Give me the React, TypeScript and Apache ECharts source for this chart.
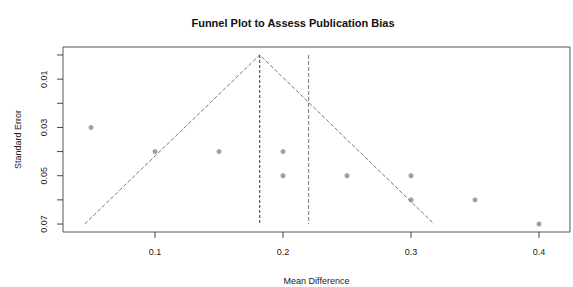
import React, { useEffect, useRef } from "react";
import * as echarts from "echarts";

const meanDifference = [0.05, 0.1, 0.15, 0.2, 0.2, 0.25, 0.3, 0.3, 0.35, 0.4];
const standardError = [0.03, 0.04, 0.04, 0.04, 0.05, 0.05, 0.05, 0.06, 0.06, 0.07];
const funnelX = [0.045, 0.1818, 0.318];
const funnelY = [0.07, 0, 0.07];
const pooledEstimate = 0.1818;
const secondEstimate = 0.22;
const xTicks = [0.1, 0.2, 0.3, 0.4];
const yTicks = [0, 0.01, 0.02, 0.03, 0.04, 0.05, 0.06, 0.07];
const yLabels = [0.01, 0.03, 0.05, 0.07];

const X_MIN = 0.0281;
const X_MAX = 0.4242;
const Y_MIN = -0.0033;
const Y_MAX = 0.0733;

export default function App() {
  const ref = useRef<HTMLDivElement>(null);
  useEffect(() => {
    if (!ref.current) return;
    const chart = echarts.init(ref.current, null, { renderer: "svg" });
    const font = "Liberation Sans, Arial, sans-serif";
    chart.setOption({
      animation: false,
      title: {
        text: "Funnel Plot to Assess Publication Bias",
        left: 288,
        textAlign: "center",
        top: 12,
        textStyle: { fontSize: 11, fontWeight: "bold", color: "#111", fontFamily: font },
      },
      grid: {
        left: 63,
        right: 3,
        top: 47,
        bottom: 55,
        outerBoundsMode: "none",
        containLabel: false,
        show: true,
        borderColor: "#555",
        borderWidth: 1,
        backgroundColor: "#fff",
      },
      xAxis: {
        type: "value",
        position: "bottom",
        min: X_MIN,
        max: X_MAX,
        name: "Mean Difference",
        nameLocation: "middle",
        nameGap: 44,
        nameTextStyle: { fontSize: 9, color: "#222", fontFamily: font, verticalAlign: "top" },
        axisLine: { show: false, onZero: false },
        splitLine: { show: false },
        axisTick: { show: false },
        axisLabel: {
          customValues: xTicks,
          margin: 15,
          fontSize: 9,
          color: "#222",
          fontFamily: font,
          formatter: (v: number) => String(Math.round(v * 10) / 10),
        },
      },
      yAxis: {
        type: "value",
        position: "left",
        inverse: true,
        min: Y_MIN,
        max: Y_MAX,
        name: "Standard Error",
        nameLocation: "middle",
        nameGap: 41,
        nameRotate: 90,
        nameTextStyle: { fontSize: 9, color: "#222", fontFamily: font },
        axisLine: { show: false, onZero: false },
        splitLine: { show: false },
        axisTick: { show: false },
        axisLabel: {
          customValues: yLabels,
          rotate: 90,
          margin: 15,
          fontSize: 9,
          color: "#222",
          fontFamily: font,
          formatter: (v: number) => v.toFixed(2),
        },
      },
      series: [
        {
          type: "line",
          data: funnelX.map((x, i) => [x, funnelY[i]]),
          symbol: "none",
          lineStyle: { color: "#777", width: 1, type: [4, 2] },
        },
        {
          type: "line",
          data: [[pooledEstimate, 0], [pooledEstimate, 0.07]],
          symbol: "none",
          lineStyle: { color: "#333", width: 1, type: [3, 2] },
        },
        {
          type: "line",
          data: [[secondEstimate, 0], [secondEstimate, 0.07]],
          symbol: "none",
          lineStyle: { color: "#777", width: 1, type: [4, 2] },
        },
        {
          type: "scatter",
          data: meanDifference.map((x, i) => [x, standardError[i]]),
          symbol: "circle",
          symbolSize: 5,
          itemStyle: { color: "#888" },
        },
        {
          type: "line",
          clip: false,
          silent: true,
          data: xTicks.map((x) => [x, Y_MAX]),
          showSymbol: true,
          symbol: "rect",
          symbolSize: [1, 6],
          symbolOffset: [0, 3],
          itemStyle: { color: "#444" },
          lineStyle: { width: 0, opacity: 0 },
          z: 10,
        },
        {
          type: "line",
          clip: false,
          silent: true,
          data: yTicks.map((y) => [X_MIN, y]),
          showSymbol: true,
          symbol: "rect",
          symbolSize: [6, 1],
          symbolOffset: [-3, 0],
          itemStyle: { color: "#444" },
          lineStyle: { width: 0, opacity: 0 },
          z: 10,
        },
      ],
    });
    return () => chart.dispose();
  }, []);
  return <div ref={ref} style={{ width: 573, height: 287, position: "absolute", left: 0, top: 0 }} />;
}
